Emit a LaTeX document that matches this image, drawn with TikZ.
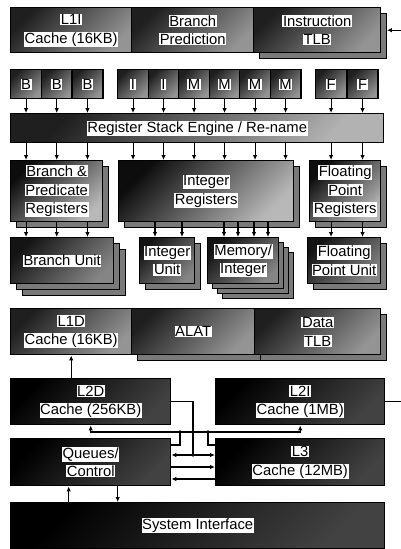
\documentclass[tikz,border=0pt]{standalone}
\usepackage{fontspec}
\setmainfont{Liberation Sans}
\usepackage{tikz}
\usetikzlibrary{arrows.meta,shadows}

% text on a white patch, one per line
\newcommand\wl[1]{\colorbox{white}{#1}}
\setlength\fboxsep{0.6pt}

\begin{document}
\begin{tikzpicture}[x=1pt,y=-1pt,
  blk/.style={draw=black,line width=1.4pt,anchor=north west,inner sep=0pt,
              align=center,font=\fontsize{14.8}{18.5}\selectfont},
  sz/.style 2 args={minimum width=#1pt,minimum height=#2pt},
  mid/.style={top color=black!88,bottom color=black!42,shading angle=45},
  pale/.style={top color=black!95,bottom color=black!28,shading angle=45},
  unit/.style={top color=black!92,bottom color=black!48,shading angle=45},
  dark/.style={top color=black,bottom color=black!74,shading angle=45},
  shd/.style={copy shadow={fill=black!52,draw=black,line width=1.4pt,
              shadow xshift=#1pt,shadow yshift=-#1pt}},
  shd/.default=6,
  wire/.style={line width=1.1pt},
  arr/.style={wire,-{Latex[length=5pt,width=4.5pt]}},
  dblarr/.style={wire,{Latex[length=5pt,width=4.5pt]}-{Latex[length=5pt,width=4.5pt]}}
]
\useasboundingbox (0,0) rectangle (400,549);

% front end
\node[blk,mid,sz={121}{45}] (l1i) at (10,7) {\wl{L1I}\\\wl{Cache (16KB)}};
\node[blk,mid,sz={122}{45}] (bp) at (131,7) {\wl{Branch}\\\wl{Prediction}};
\node[blk,mid,shd,sz={127}{45}] (itlb) at (253,7) {\wl{Instruction}\\\wl{TLB}};
\draw[arr] ([xshift=20pt]itlb.east) -- ([xshift=5.5pt]itlb.east);

% issue ports
\foreach \n/\t/\x in {b1/B/10,b2/B/40.7,b3/B/71.4,
                      i1/I/117,i2/I/147.5,m1/M/178,m2/M/208.5,m3/M/239,m4/M/269.5,
                      f1/F/315,f2/F/346.5}
  \node[blk,mid,sz={30.7}{29}] (\n) at (\x,69) {\wl{\t}};

\node[blk,sz={373}{29},top color=black!88,bottom color=black!30,shading angle=45] (rse)
  at (10,113) {\wl{Register Stack Engine / Re-name}};
\foreach \n in {b1,b2,b3,i1,i2,m1,m2,m3,m4,f1,f2}
  \draw[arr] (\n.south) -- (\n.south |- rse.north);

% register files
\node[blk,pale,shd,sz={92}{61}] (breg) at (10,160) {\wl{Branch \&}\\\wl{Predicate}\\\wl{Registers}};
\node[blk,pale,shd,sz={175}{61}] (ireg) at (118,160) {\wl{Integer}\\\wl{Registers}};
\node[blk,pale,shd,sz={71}{61}] (freg) at (309,160) {\wl{Floating}\\\wl{Point}\\\wl{Registers}};
\foreach \n in {b1,b2,b3,i1,i2,m1,m2,m3,m4,f1,f2}
  \draw[arr] (\n.south |- rse.south) -- (\n.south |- ireg.north);

% execution units
\node[blk,unit,shd=12,shd,sz={103}{46}] (bu) at (10,237) {\wl{Branch Unit}};
\node[blk,unit,shd,sz={55}{46}] (iu) at (139,237) {\wl{Integer}\\\wl{Unit}};
\node[blk,unit,shd=15,shd=10,shd=5,sz={71}{46}] (mu) at (207,237) {\wl{Memory/}\\\wl{Integer}};
\node[blk,unit,shd,sz={73}{46}] (fu) at (307,237) {\wl{Floating}\\\wl{Point Unit}};
\foreach \n in {b1,b2,b3}
  \draw[arr] (\n.south |- breg.south) -- (\n.south |- bu.north);
\foreach \n in {f1,f2}
  \draw[arr] (\n.south |- freg.south) -- (\n.south |- fu.north);
\foreach \x in {155,182}
  \draw[arr] (ireg.south -| \x,0) -- (iu.north -| \x,0);
\foreach \x in {224,238,254,268}
  \draw[arr] (ireg.south -| \x,0) -- (mu.north -| \x,0);

% data side
\node[blk,mid,sz={121}{46}] (l1d) at (10,308) {\wl{L1D}\\\wl{Cache (16KB)}};
\node[blk,mid,shd,sz={123}{46}] (alat) at (131,308) {\wl{ALAT}};
\node[blk,mid,shd,sz={126}{46}] (dtlb) at (254,308) {\wl{Data}\\\wl{TLB}};

\node[blk,dark,sz={160}{46}] (l2d) at (10,378) {\wl{L2D}\\\wl{Cache (256KB)}};
\node[blk,dark,sz={169}{46}] (l2i) at (215,378) {\wl{L2I}\\\wl{Cache (1MB)}};
\node[blk,dark,sz={160}{47}] (que) at (10,438) {\wl{Queues/}\\\wl{Control}};
\node[blk,dark,sz={169}{47}] (l3) at (215,438) {\wl{L3}\\\wl{Cache (12MB)}};
\node[blk,dark,sz={374}{46}] (sys) at (10,502) {\wl{System Interface}};

\draw[arr] (l1d.south |- l2d.north) -- (l1d.south);

% bus between the caches and the queues
\coordinate (bus) at (0,432);
\coordinate (jq) at (180,432);
\coordinate (jd) at (193,455);
\coordinate (j3) at (208,432);
\draw[dblarr] (l2d.south) -- (l2d.south |- bus) -- (l2i.south |- bus) -- (l2i.south);
\draw[wire] ([yshift=-7pt]que.north east) -| (jq);
\draw[wire] ([yshift=-7pt]l3.north west) -| (j3);
\draw[wire] (l2d.east) -| (jd);
\draw[dblarr] (que.east |- jd) -- (l3.west |- jd);
\draw[arr] (que.east |- 0,467) -- (l3.west |- 0,467);
\draw[arr] (l3.west |- 0,479) -- (que.east |- 0,479);
\foreach \p in {jq,j3,jd} \fill (\p) circle (1.8pt);
\fill (jd |- bus) circle (1.8pt);
\draw[wire] (l2i.east) -- ++(16,0);

\draw[arr] ([xshift=-22pt]que.south |- sys.north) -- ([xshift=-22pt]que.south);
\draw[arr] ([xshift=27pt]que.south) -- ([xshift=27pt]que.south |- sys.north);
\end{tikzpicture}
\end{document}
